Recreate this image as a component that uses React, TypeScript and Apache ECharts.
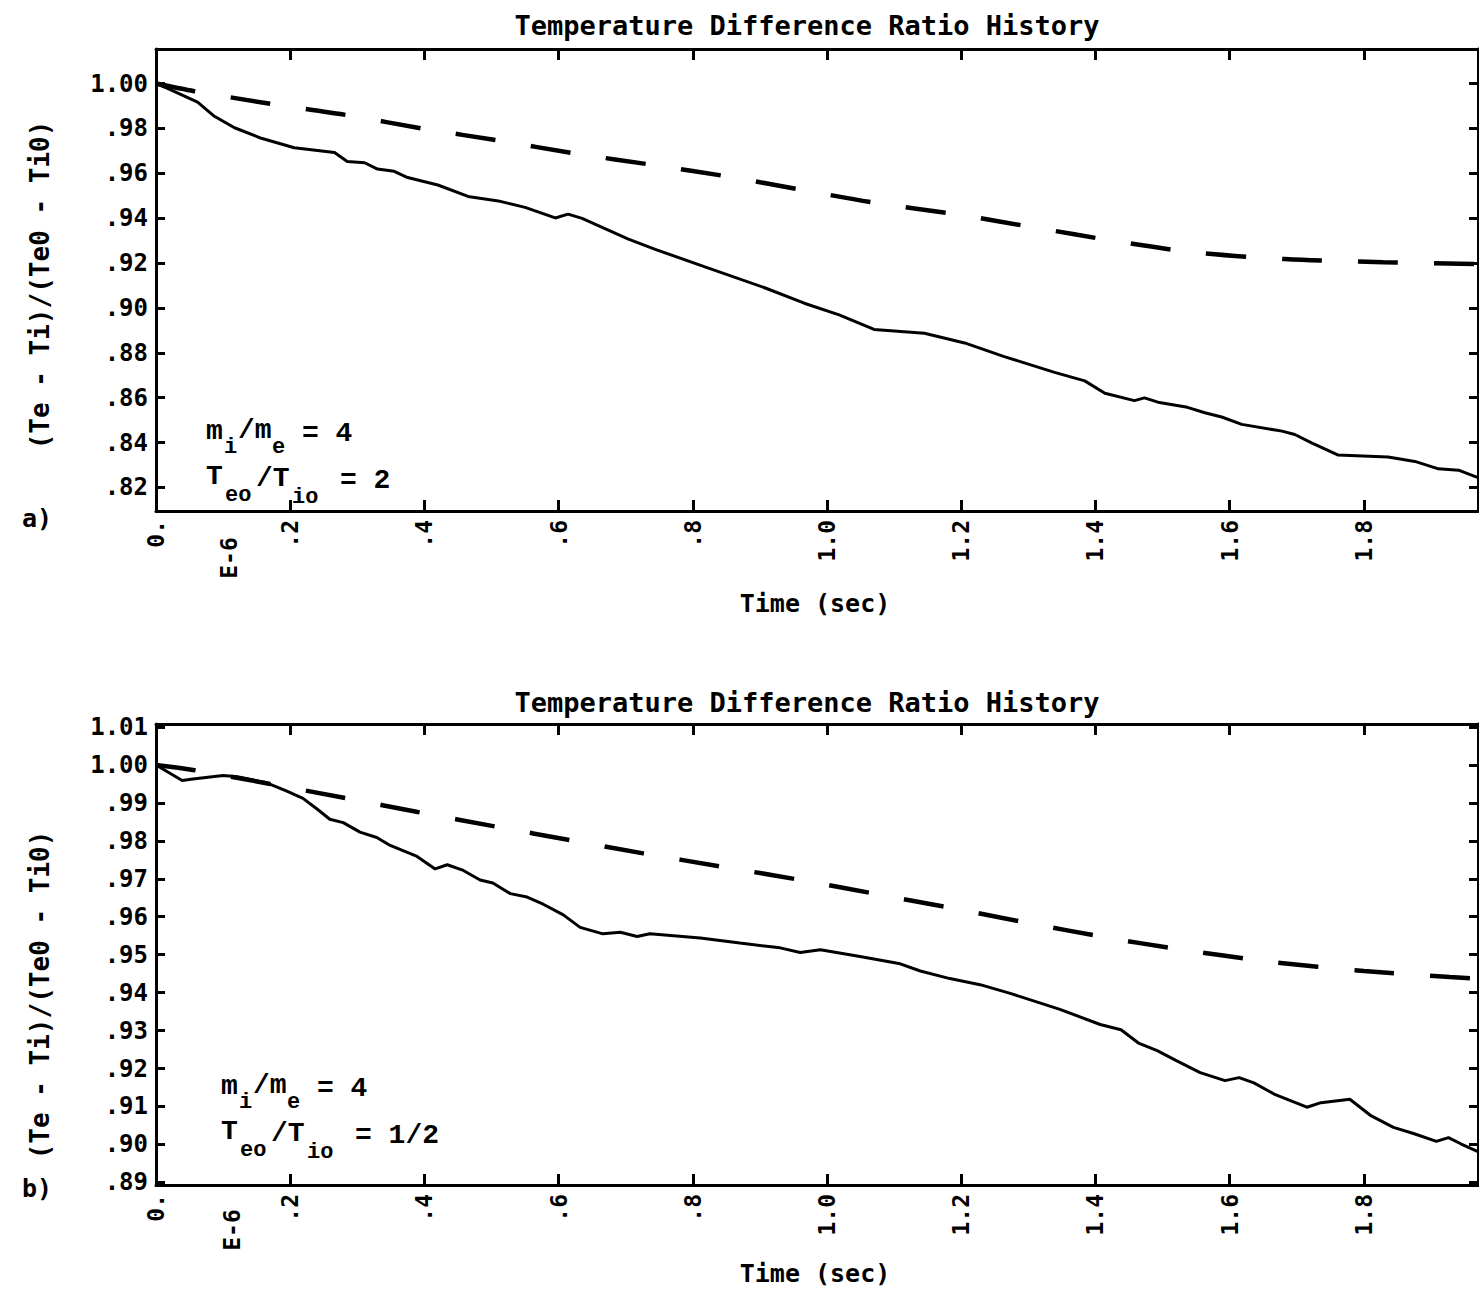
import React, { useEffect, useRef } from "react";
import * as echarts from "echarts";

// ---------- texts ----------
const TITLE = "Temperature Difference Ratio History";
const X_NAME = "Time (sec)";
const Y_NAME = "(Te - Ti)/(Te0 - Ti0)";
const X_UNIT = "E-6";
const PANEL_TAGS = ["a)", "b)"];
const RATIO_RHS = ["2", "1/2"]; // Teo/Tio value of each panel
const MASS_RHS = "4"; // mi/me

// ---------- axes ----------
const X_TICKS = [0, 0.2, 0.4, 0.6, 0.8, 1.0, 1.2, 1.4, 1.6, 1.8];
const X_TICK_LABELS = ["0.", ".2", ".4", ".6", ".8", "1.0", "1.2", "1.4", "1.6", "1.8"];
const X_MAX = 1.97;
const Y_TICKS_A = [0.82, 0.84, 0.86, 0.88, 0.9, 0.92, 0.94, 0.96, 0.98, 1.0];
const Y_TICKS_B = [0.89, 0.9, 0.91, 0.92, 0.93, 0.94, 0.95, 0.96, 0.97, 0.98, 0.99, 1.0, 1.01];
const Y_RANGE_A = [0.8095, 1.0154];
const Y_RANGE_B = [0.8893, 1.0108];

// ---------- data: panel a (Teo/Tio = 2) ----------
const A_SOLID_T = [0, 0.018, 0.062, 0.087, 0.117, 0.157, 0.206, 0.266, 0.285, 0.311, 0.33, 0.355, 0.375, 0.42, 0.465, 0.51, 0.55, 0.595, 0.614, 0.635, 0.659, 0.704, 0.744, 0.818, 0.907, 0.966, 1.018, 1.07, 1.145, 1.205, 1.264, 1.339, 1.384, 1.414, 1.458, 1.473, 1.493, 1.537, 1.563, 1.588, 1.618, 1.678, 1.697, 1.722, 1.761, 1.836, 1.876, 1.911, 1.941, 1.97];
const A_SOLID_V = [1.0, 0.9977, 0.9917, 0.9854, 0.9803, 0.9756, 0.9714, 0.9693, 0.9653, 0.9647, 0.9619, 0.9609, 0.9581, 0.9548, 0.9497, 0.9477, 0.9448, 0.9401, 0.9418, 0.9399, 0.9367, 0.9307, 0.9261, 0.9183, 0.909, 0.9021, 0.8969, 0.8904, 0.8887, 0.8844, 0.8783, 0.8713, 0.8675, 0.862, 0.8587, 0.8599, 0.858, 0.8557, 0.8533, 0.8514, 0.8481, 0.8451, 0.8436, 0.8399, 0.8345, 0.8336, 0.8316, 0.8283, 0.8277, 0.8244];
const A_DASH_T = [0, 0.057, 0.17, 0.283, 0.404, 0.509, 0.627, 0.741, 0.849, 0.968, 1.073, 1.193, 1.312, 1.425, 1.549, 1.682, 1.829, 1.97];
const A_DASH_V = [1.0, 0.9966, 0.991, 0.986, 0.9796, 0.9747, 0.9687, 0.9637, 0.9587, 0.9523, 0.9468, 0.9417, 0.9357, 0.93, 0.9247, 0.9218, 0.9204, 0.9196];

// ---------- data: panel b (Teo/Tio = 1/2) ----------
const B_SOLID_T = [0, 0.039, 0.055, 0.1, 0.121, 0.165, 0.195, 0.219, 0.24, 0.259, 0.279, 0.304, 0.329, 0.349, 0.389, 0.416, 0.434, 0.458, 0.483, 0.502, 0.528, 0.553, 0.577, 0.607, 0.632, 0.666, 0.692, 0.717, 0.736, 0.811, 0.87, 0.93, 0.96, 0.99, 1.049, 1.109, 1.139, 1.183, 1.228, 1.273, 1.347, 1.407, 1.438, 1.465, 1.492, 1.519, 1.556, 1.593, 1.614, 1.636, 1.668, 1.715, 1.736, 1.779, 1.811, 1.844, 1.875, 1.908, 1.926, 1.945, 1.97];
const B_SOLID_V = [1.0, 0.9959, 0.9963, 0.9972, 0.9969, 0.9953, 0.9931, 0.9912, 0.9884, 0.9857, 0.9848, 0.9823, 0.9809, 0.9788, 0.9759, 0.9726, 0.9737, 0.9722, 0.9697, 0.9689, 0.9661, 0.9652, 0.9633, 0.9605, 0.9572, 0.9555, 0.9559, 0.9548, 0.9555, 0.9544, 0.9531, 0.9518, 0.9506, 0.9513, 0.9495, 0.9476, 0.9457, 0.9437, 0.9421, 0.9398, 0.9356, 0.9316, 0.9302, 0.9266, 0.9247, 0.9222, 0.9189, 0.9168, 0.9176, 0.9162, 0.9131, 0.9098, 0.911, 0.9119, 0.9075, 0.9045, 0.9028, 0.9008, 0.9018, 0.9001, 0.8981];
const B_DASH_T = [0, 0.055, 0.285, 0.39, 0.508, 0.62, 0.726, 0.84, 0.96, 1.079, 1.191, 1.302, 1.414, 1.519, 1.662, 1.8, 1.928, 1.97];
const B_DASH_V = [1.0, 0.9987, 0.9912, 0.9876, 0.9837, 0.9801, 0.9767, 0.9733, 0.9697, 0.9658, 0.9621, 0.9583, 0.9546, 0.9516, 0.9481, 0.9457, 0.9441, 0.9437];

const MONO = "'DejaVu Sans Mono', monospace";
const TYPE = "'Liberation Mono', monospace";
const BLACK = "#000";

const zip = (t: number[], v: number[]) => t.map((x, i) => [x, v[i]]);

const fmtX = (v: number) => {
  const i = X_TICKS.findIndex((t) => Math.abs(t - v) < 1e-6);
  return i >= 0 ? X_TICK_LABELS[i] : "";
};
const fmtY = (v: number) => {
  const s = v.toFixed(2);
  return v >= 1 ? s : s.slice(1);
};

const frameLine = { color: BLACK, width: 3 };

function xAxesFor(grid: number) {
  const common = {
    type: "value" as const,
    gridIndex: grid,
    min: 0,
    max: X_MAX,
    splitLine: { show: false },
    axisLine: { show: true, onZero: false, lineStyle: frameLine },
  };
  return [
    {
      ...common,
      position: "bottom",
      axisTick: { show: true, inside: true, length: 11, lineStyle: frameLine, customValues: X_TICKS },
      axisLabel: {
        show: true,
        customValues: X_TICKS,
        rotate: 90,
        margin: 9,
        formatter: fmtX,
        fontSize: 23,
        fontFamily: MONO,
        fontWeight: "bold",
        color: BLACK,
      },
    },
    {
      ...common,
      position: "top",
      axisTick: { show: true, inside: true, length: 11, lineStyle: frameLine, customValues: X_TICKS },
      axisLabel: { show: false },
    },
  ];
}

function yAxesFor(grid: number, range: number[], ticks: number[]) {
  const common = {
    type: "value" as const,
    gridIndex: grid,
    min: range[0],
    max: range[1],
    splitLine: { show: false },
    axisLine: { show: true, onZero: false, lineStyle: frameLine },
  };
  return [
    {
      ...common,
      position: "left",
      axisTick: { show: true, inside: true, length: 9, lineStyle: frameLine, customValues: ticks },
      axisLabel: {
        show: true,
        customValues: ticks,
        margin: 8,
        formatter: fmtY,
        fontSize: 24,
        fontFamily: MONO,
        fontWeight: "bold",
        color: BLACK,
      },
    },
    {
      ...common,
      position: "right",
      axisTick: { show: true, inside: true, length: 9, lineStyle: frameLine, customValues: ticks },
      axisLabel: { show: false },
    },
  ];
}

function solid(xi: number, data: number[][]) {
  return {
    type: "line",
    xAxisIndex: xi,
    yAxisIndex: xi,
    data,
    showSymbol: false,
    symbol: "none",
    silent: true,
    lineStyle: { color: BLACK, width: 3 },
  };
}
function dashed(xi: number, data: number[][]) {
  return {
    type: "line",
    xAxisIndex: xi,
    yAxisIndex: xi,
    data,
    smooth: 0.3,
    showSymbol: false,
    symbol: "none",
    silent: true,
    lineStyle: { color: BLACK, width: 4.5, type: [40, 36], cap: "butt" },
  };
}

function txt(text: string, x: number, y: number, size: number, family: string, opts: any = {}) {
  return {
    type: "text",
    x,
    y,
    rotation: opts.rotation || 0,
    silent: true,
    style: {
      text,
      fill: BLACK,
      font: `bold ${size}px ${family}`,
      align: opts.align || "left",
      verticalAlign: "middle",
      textAlign: opts.align || "left",
      textVerticalAlign: "middle",
    },
  };
}

function annotation(dx: number, dy: number, rhs: string) {
  return [
    txt("m", 206 + dx, 431 + dy, 28, TYPE),
    txt("i", 224 + dx, 447 + dy, 22, TYPE),
    txt("/m", 238 + dx, 430 + dy, 28, TYPE),
    txt("e", 272 + dx, 447 + dy, 22, TYPE),
    txt("= " + MASS_RHS, 302 + dx, 433 + dy, 28, TYPE),
    txt("T", 206 + dx, 476 + dy, 28, TYPE),
    txt("eo", 225 + dx, 495 + dy, 22, TYPE),
    txt("/T", 256 + dx, 478 + dy, 28, TYPE),
    txt("io", 292 + dx, 497 + dy, 22, TYPE),
    txt("= " + rhs, 340 + dx, 480 + dy, 28, TYPE),
  ];
}

export default function App() {
  const ref = useRef<HTMLDivElement>(null);
  useEffect(() => {
    if (!ref.current) return;
    const chart = echarts.init(ref.current, undefined, { renderer: "svg" });
    const rot = Math.PI / 2;
    chart.setOption({
      animation: false,
      backgroundColor: "#fff",
      grid: [
        { left: 156, top: 49, width: 1322, height: 462 },
        { left: 156, top: 724, width: 1322, height: 461 },
      ],
      xAxis: [...xAxesFor(0), ...xAxesFor(1)],
      yAxis: [...yAxesFor(0, Y_RANGE_A, Y_TICKS_A), ...yAxesFor(1, Y_RANGE_B, Y_TICKS_B)],
      series: [
        solid(0, zip(A_SOLID_T, A_SOLID_V)),
        dashed(0, zip(A_DASH_T, A_DASH_V)),
        solid(2, zip(B_SOLID_T, B_SOLID_V)),
        dashed(2, zip(B_DASH_T, B_DASH_V)),
      ],
      graphic: {
        elements: [
          txt(TITLE, 807, 25, 27, MONO, { align: "center" }),
          txt(TITLE, 807, 702, 27, MONO, { align: "center" }),
          txt(X_NAME, 815, 603, 25, MONO, { align: "center" }),
          txt(X_NAME, 815, 1273, 25, MONO, { align: "center" }),
          txt(Y_NAME, 40, 285, 26, MONO, { align: "center", rotation: rot }),
          txt(Y_NAME, 40, 995, 26, MONO, { align: "center", rotation: rot }),
          txt(X_UNIT, 229, 558, 23, MONO, { align: "center", rotation: rot }),
          txt(X_UNIT, 232, 1230, 23, MONO, { align: "center", rotation: rot }),
          txt(PANEL_TAGS[0], 22, 518, 25, MONO),
          txt(PANEL_TAGS[1], 22, 1188, 25, MONO),
          ...annotation(0, 0, RATIO_RHS[0]),
          ...annotation(15, 655, RATIO_RHS[1]),
        ],
      },
    });
    return () => chart.dispose();
  }, []);
  return (
    <div
      ref={ref}
      style={{ position: "absolute", left: 0, top: 0, width: 1479, height: 1292, background: "#fff" }}
    />
  );
}
